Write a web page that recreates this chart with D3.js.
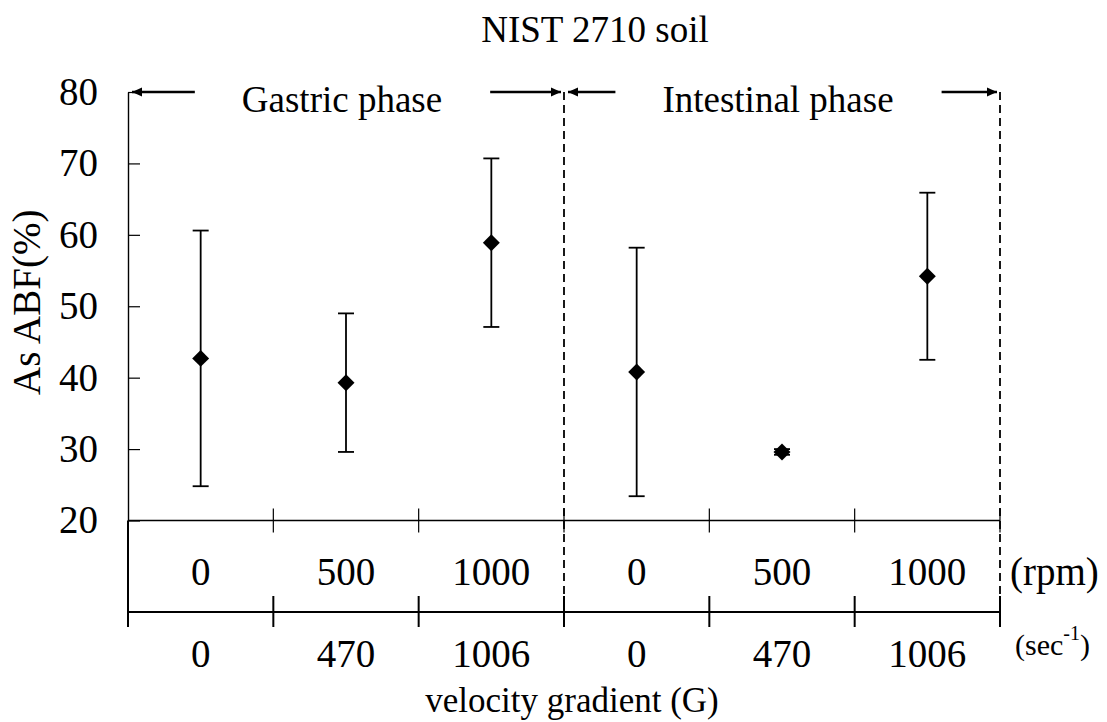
<!DOCTYPE html>
<html>
<head>
<meta charset="utf-8">
<title>NIST 2710 soil</title>
<script src="https://cdn.jsdelivr.net/npm/d3@7"></script>
<style>
	body { margin: 0; background: #fff; }
	svg text { font-family: "Liberation Serif", "Times New Roman", Times, serif; fill: #000; }
</style>
</head>
<body>
<svg id="chart" width="1107" height="722"></svg>
<script>

/////////////////////////////////////////////////////////
/////////////////-----DATA-----//////////////////////////
/////////////////////////////////////////////////////////
let categories = ["G0", "G500", "G1000", "I0", "I500", "I1000"];
let rpmLabels = ["0", "500", "1000", "0", "500", "1000"];
let gradientLabels = ["0", "470", "1006", "0", "470", "1006"];
let abfMean = [42.7, 39.3, 58.9, 40.8, 29.6, 54.2];
let abfErr = [17.9, 9.7, 11.8, 17.4, 0.4, 11.7];
let phaseLabels = ["Gastric phase", "Intestinal phase"];
let phaseFirst = ["G0", "I0"];
let phaseLast = ["G1000", "I1000"];
let yTicks = [20, 30, 40, 50, 60, 70, 80];


/////////////////////////////////////////////////////////
/////////////////-----SCALES-----////////////////////////
/////////////////////////////////////////////////////////
let x = d3.scaleBand().domain(categories).range([128, 1000]).padding(0);
let y = d3.scaleLinear().domain([20, 80]).range([520.5, 92]);

let row1 = y(20);      // rpm line
let row2 = 612;        // velocity gradient line
let bottom = 627;

let bounds = categories.map(function(d) { return x(d); }).concat([x.range()[1]]);

let points = categories.map(function(c, i) {
	return {cat: c, mean: abfMean[i], err: abfErr[i], rpm: rpmLabels[i], g: gradientLabels[i]};
});

let svg = d3.select("#chart");

svg.append("defs").selectAll("marker").data(["head"]).enter().append("marker")
	.attr("id", "head")
	.attr("markerUnits", "userSpaceOnUse")
	.attr("viewBox", "0 0 10 10")
	.attr("refX", 10).attr("refY", 5)
	.attr("markerWidth", 11).attr("markerHeight", 10)
	.attr("orient", "auto")
	.append("path").attr("d", "M0,0.5 L10,5 L0,9.5 z").attr("fill", "#000");


/////////////////////////////////////////////////////////
/////////////////-----TITLE-----/////////////////////////
/////////////////////////////////////////////////////////
svg.append("text")
	.attr("x", 595).attr("y", 42)
	.attr("text-anchor", "middle")
	.style("font-size", "37px")
	.text("NIST 2710 soil");


/////////////////////////////////////////////////////////
/////////////////-----AXES-----//////////////////////////
/////////////////////////////////////////////////////////
let yAxis = svg.append("g")
	.attr("transform", "translate(128,0)")
	.call(d3.axisLeft(y).tickValues(yTicks).tickSizeInner(-12).tickSizeOuter(0).tickPadding(30));
yAxis.select(".domain").attr("stroke-width", 1.4);
yAxis.selectAll(".tick line").attr("stroke-width", 1.2);
yAxis.selectAll(".tick text")
	.style("font-family", "'Liberation Serif', 'Times New Roman', serif")
	.style("font-size", "39px");

svg.append("text")
	.attr("transform", "translate(40," + ((y(80) + y(20)) / 2 - 4) + ") rotate(-90)")
	.attr("text-anchor", "middle")
	.style("font-size", "39px")
	.text("As ABF(%)");

// left axis continues down through the two label rows
svg.append("line")
	.attr("x1", 128).attr("x2", 128)
	.attr("y1", row1).attr("y2", bottom)
	.attr("stroke", "#000").attr("stroke-width", 2);

// rpm row
svg.append("line")
	.attr("x1", x.range()[0]).attr("x2", x.range()[1])
	.attr("y1", row1).attr("y2", row1)
	.attr("stroke", "#000").attr("stroke-width", 1.5);
svg.append("g").selectAll("line").data(bounds.slice(1)).enter().append("line")
	.attr("x1", function(d) { return d; }).attr("x2", function(d) { return d; })
	.attr("y1", row1 - 12).attr("y2", row1 + 12)
	.attr("stroke", "#000").attr("stroke-width", 1.2);

// velocity gradient row
svg.append("line")
	.attr("x1", x.range()[0]).attr("x2", x.range()[1])
	.attr("y1", row2).attr("y2", row2)
	.attr("stroke", "#000").attr("stroke-width", 2.2);
svg.append("g").selectAll("line").data(bounds).enter().append("line")
	.attr("x1", function(d) { return d; }).attr("x2", function(d) { return d; })
	.attr("y1", row2 - 16).attr("y2", bottom)
	.attr("stroke", "#000").attr("stroke-width", 2);

svg.append("g").selectAll("text").data(points).enter().append("text")
	.attr("x", function(d) { return x(d.cat) + x.bandwidth() / 2; })
	.attr("y", 585)
	.attr("text-anchor", "middle")
	.style("font-size", "39px")
	.text(function(d) { return d.rpm; });

svg.append("g").selectAll("text").data(points).enter().append("text")
	.attr("x", function(d) { return x(d.cat) + x.bandwidth() / 2; })
	.attr("y", 667)
	.attr("text-anchor", "middle")
	.style("font-size", "39px")
	.text(function(d) { return d.g; });

svg.append("text")
	.attr("x", 1010).attr("y", 585)
	.style("font-size", "39px")
	.text("(rpm)");

let sec = svg.append("text")
	.attr("x", 1015).attr("y", 655)
	.style("font-size", "30px");
sec.append("tspan").text("(sec");
sec.append("tspan").attr("dy", -15).style("font-size", "20px").text("-1");
sec.append("tspan").attr("dy", 15).text(")");

svg.append("text")
	.attr("x", 572).attr("y", 712)
	.attr("text-anchor", "middle")
	.style("font-size", "35px")
	.text("velocity gradient (G)");


/////////////////////////////////////////////////////////
/////////////////-----PHASES-----////////////////////////
/////////////////////////////////////////////////////////
svg.append("g").selectAll("line").data([x("I0"), x.range()[1]]).enter().append("line")
	.attr("x1", function(d) { return d; }).attr("x2", function(d) { return d; })
	.attr("y1", y(80)).attr("y2", row2)
	.attr("stroke", "#000").attr("stroke-width", 1.8)
	.attr("stroke-dasharray", "8,5");

phaseLabels.forEach(function(label, i) {
	let x0 = x(phaseFirst[i]);
	let x1 = x(phaseLast[i]) + x.bandwidth();
	let t = svg.append("text")
		.attr("x", (x0 + x1) / 2 - 4).attr("y", 112)
		.attr("text-anchor", "middle")
		.style("font-size", "37px")
		.text(label);
	let w = t.node().getComputedTextLength();
	let tx0 = (x0 + x1) / 2 - 4 - w / 2;
	let tx1 = (x0 + x1) / 2 - 4 + w / 2;
	svg.append("line")
		.attr("x1", tx0 - 47).attr("x2", x0 + 4)
		.attr("y1", y(80)).attr("y2", y(80))
		.attr("stroke", "#000").attr("stroke-width", 2.4)
		.attr("marker-end", "url(#head)");
	svg.append("line")
		.attr("x1", tx1 + 48).attr("x2", x1 - 3)
		.attr("y1", y(80)).attr("y2", y(80))
		.attr("stroke", "#000").attr("stroke-width", 2.4)
		.attr("marker-end", "url(#head)");
});


/////////////////////////////////////////////////////////
/////////////////-----POINTS-----////////////////////////
/////////////////////////////////////////////////////////
let bars = svg.append("g").selectAll("g").data(points).enter().append("g")
	.attr("transform", function(d) { return "translate(" + (x(d.cat) + x.bandwidth() / 2) + ",0)"; });

bars.append("line")
	.attr("y1", function(d) { return y(d.mean - d.err); })
	.attr("y2", function(d) { return y(d.mean + d.err); })
	.attr("stroke", "#000").attr("stroke-width", 1.8);
bars.append("line")
	.attr("x1", -8).attr("x2", 8)
	.attr("y1", function(d) { return y(d.mean + d.err); })
	.attr("y2", function(d) { return y(d.mean + d.err); })
	.attr("stroke", "#000").attr("stroke-width", 1.8);
bars.append("line")
	.attr("x1", -8).attr("x2", 8)
	.attr("y1", function(d) { return y(d.mean - d.err); })
	.attr("y2", function(d) { return y(d.mean - d.err); })
	.attr("stroke", "#000").attr("stroke-width", 1.8);
bars.append("path")
	.attr("d", d3.symbol().type(d3.symbolSquare).size(144))
	.attr("transform", function(d) { return "translate(0," + y(d.mean) + ") rotate(45)"; })
	.attr("fill", "#000");

</script>
</body>
</html>
